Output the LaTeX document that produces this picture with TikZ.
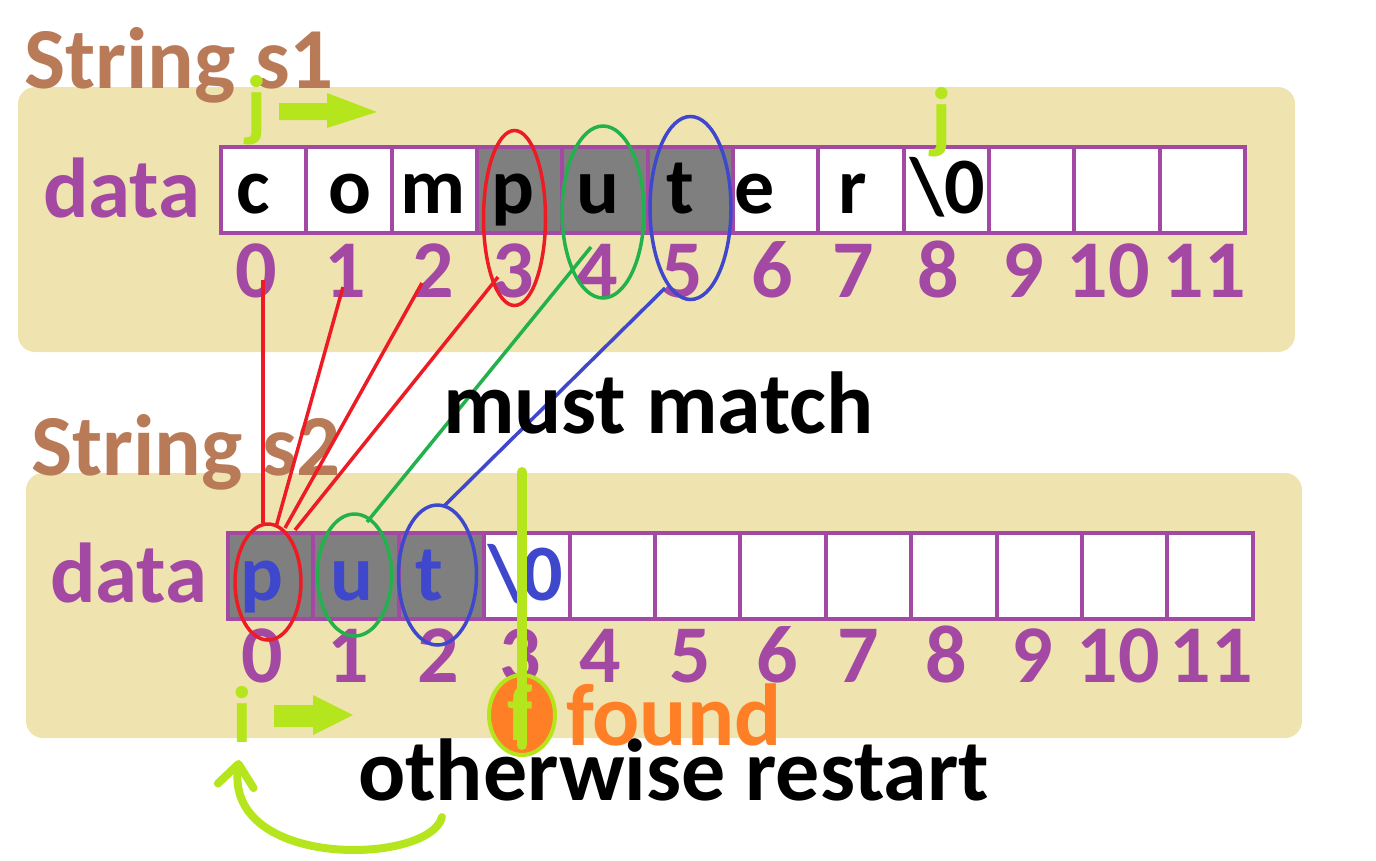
\documentclass[tikz,border=0pt]{standalone}
\usepackage{fontspec}
\setmainfont{Carlito}
\usetikzlibrary{shapes.geometric,arrows.meta}
\definecolor{tanbg}{HTML}{EFE4B0}
\definecolor{purp}{HTML}{A349A4}
\definecolor{brownc}{HTML}{B97A57}
\definecolor{grayc}{HTML}{7F7F7F}
\definecolor{redc}{HTML}{ED1C24}
\definecolor{greenc}{HTML}{22B14C}
\definecolor{bluec}{HTML}{3F48CC}
\definecolor{limec}{HTML}{B5E61D}
\definecolor{orangec}{HTML}{FF7F27}
\begin{document}
\begin{tikzpicture}[x=1pt,y=-1pt,
  txt/.style={inner sep=0pt, outer sep=0pt, font=\fontsize{87}{90}\selectfont\bfseries},
  letter/.style={inner sep=0pt, anchor=base, font=\fontsize{80}{84}\selectfont\bfseries},
  idx/.style={inner sep=0pt, anchor=base, text=purp, font=\fontsize{82}{86}\selectfont\bfseries},
  tag/.style={inner sep=0pt, anchor=base, text=limec, font=\fontsize{80}{84}\selectfont\bfseries},
  cell/.style={draw=purp, line width=4pt, minimum width=85.33pt, minimum height=86pt, inner sep=0pt},
  ring/.style={ellipse, draw, line width=3.5pt, inner sep=0pt},
  link/.style={line width=3.5pt},
  panel/.style={fill=tanbg, rounded corners=17pt}
]
\useasboundingbox (0,0) rectangle (1376,860);

% panels
\fill[panel] (18,87) rectangle (1295,352);
\fill[panel] (26,473) rectangle (1302,738);

% titles
\node[txt, anchor=base west, text=brownc] (s1) at (24,88) {String s1};
\node[txt, anchor=base west, text=brownc] (s2) at (31,475) {String s2};
\node[txt, anchor=base west, text=purp, font=\fontsize{85}{90}\selectfont\bfseries] (d1) at (43,217) {data};
\node[txt, anchor=base west, text=purp, font=\fontsize{85}{90}\selectfont\bfseries] (d2) at (50,602) {data};

% top array
\foreach \i/\f in {0/white,1/white,2/white,3/grayc,4/grayc,5/grayc,6/white,7/white,8/white,9/white,10/white,11/white}
  \node[cell, fill=\f] (t\i) at ({221+85.33*(\i+0.5)},190) {};
% bottom array
\foreach \i/\f in {0/grayc,1/grayc,2/grayc,3/white,4/white,5/white,6/white,7/white,8/white,9/white,10/white,11/white}
  \node[cell, fill=\f, minimum width=85.4pt] (b\i) at ({228+85.4*(\i+0.5)},576) {};

% top letters
\foreach \x/\c [count=\k] in {253/c,350/o,433/m,513/p,598/u,680/t,755/e,853/r,948/{\textbackslash 0}}
  \node[letter] (tl\k) at (\x,213) {\c};
% bottom letters
\foreach \x/\c [count=\k] in {262/p,352/u,429/t,526/{\textbackslash 0}}
  \node[letter, text=bluec] (bl\k) at (\x,600) {\c};

% indices
\foreach \x [count=\k from 0] in {256,345,433,513,597,682,772,853,938,1023,1108,1204}
  \node[idx] (ti\k) at (\x,297) {\k};
\foreach \x [count=\k from 0] in {262,348,438,520,600,690,777,858,946,1032,1118,1211}
  \node[idx] (bi\k) at (\x,682) {\k};

% rings
\node[ring, draw=redc, minimum width=62pt, minimum height=175pt] (rt) at (514.5,218) {};
\node[ring, draw=greenc, minimum width=82pt, minimum height=172pt] (gt) at (603,212) {};
\node[ring, draw=bluec, minimum width=81pt, minimum height=183pt] (bt) at (690.5,208) {};
\node[ring, draw=redc, minimum width=66pt, minimum height=116pt] (rb) at (268,582) {};
\node[ring, draw=greenc, minimum width=74pt, minimum height=122pt] (gb) at (354.5,575) {};
\node[ring, draw=bluec, minimum width=78pt, minimum height=140pt] (bb) at (437.5,575) {};

% connector end points
\coordinate (r0a) at (263,280); \coordinate (r0b) at (263,523);
\coordinate (r1a) at (343,287); \coordinate (r1b) at (276,527);
\coordinate (r2a) at (422,283); \coordinate (r2b) at (285,528);
\coordinate (r3a) at (498,277); \coordinate (r3b) at (295,530);
\coordinate (g4a) at (591,247); \coordinate (g4b) at (367,522);
\coordinate (b5a) at (665,288); \coordinate (b5b) at (443,507);
\draw[link, redc] (r0a) -- (r0b);
\draw[link, redc] (r1a) -- (r1b);
\draw[link, redc] (r2a) -- (r2b);
\draw[link, redc] (r3a) -- (r3b);
\draw[link, greenc] (g4a) -- (g4b);
\draw[link, bluec] (b5a) -- (b5b);

% texts
\node[txt, anchor=base west, font=\fontsize{88}{92}\selectfont\bfseries] (mm) at (443,433) {must match};
\node[txt, anchor=base west, font=\fontsize{88}{92}\selectfont\bfseries] (ow) at (358,800) {otherwise restart};
\node[txt, anchor=base west, text=orangec, font=\fontsize{88}{92}\selectfont\bfseries] (fd) at (566,745) {found};

% j / i tags and block arrows
\node[tag] (j1) at (257,131) {j};
\node[tag] (j2) at (942,143) {j};
\node[tag] (i1) at (242,742) {i};
\fill[limec] (279,103) -- (327,103) -- (327,93) -- (377,112) -- (327,128) -- (327,120) -- (279,120) -- cycle;
\fill[limec] (274,705) -- (313,705) -- (313,695) -- (353,715) -- (313,735) -- (313,727) -- (274,727) -- cycle;

% found marker
\node[ellipse, fill=orangec, draw=limec, line width=4pt, inner sep=0pt, minimum width=66pt, minimum height=80pt] (fo) at (522,715) {};
\node[tag] (f1) at (520,740) {f};
\coordinate (fl1) at (522,472); \coordinate (fl2) at (522,745);
\draw[limec, line width=10pt, line cap=round] (fl1) -- (fl2);

% restart arrow
\coordinate (ra) at (442,817); \coordinate (rz) at (239,760);
\draw[limec, line width=8pt, line cap=round, -{Straight Barb[length=22pt,width=36pt,round]}] (ra) .. controls (430,865) and (225,870) .. (rz);
\end{tikzpicture}
\end{document}
